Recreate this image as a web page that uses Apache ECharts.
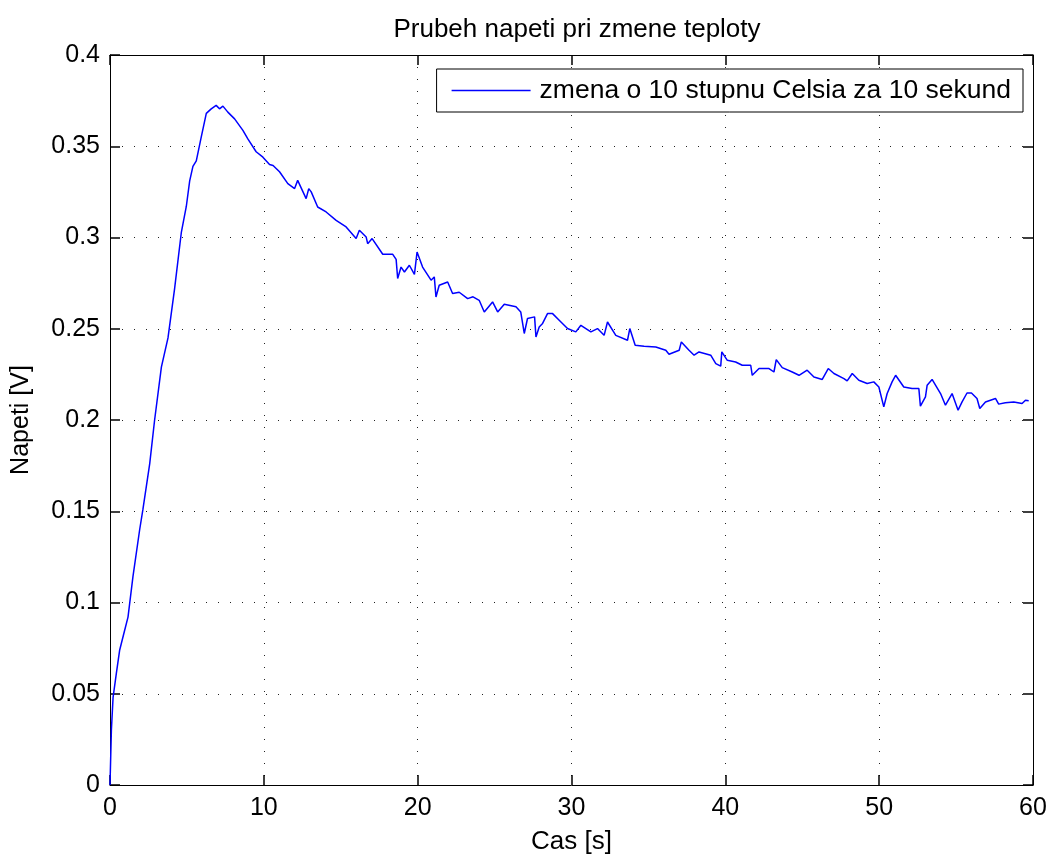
<!DOCTYPE html>
<html>
<head>
<meta charset="utf-8">
<script src="https://cdn.jsdelivr.net/npm/echarts@6/dist/echarts.min.js"></script>
<style>
html,body{margin:0;padding:0;background:#fff;overflow:hidden;}
#chart{width:1053px;height:856px;}
</style>
</head>
<body>
<div id="chart"></div>
<script>
const titleText = 'Prubeh napeti pri zmene teploty';
const seriesName = 'zmena o 10 stupnu Celsia za 10 sekund';
const xName = 'Cas [s]';
const yName = 'Napeti [V]';
const xTicks = [0, 10, 20, 30, 40, 50, 60];
const yTicks = [0, 0.05, 0.1, 0.15, 0.2, 0.25, 0.3, 0.35, 0.4];

const times = [
  0, 0.09, 0.2, 0.41, 0.63, 0.9, 1.17, 1.49, 1.93, 2.14,
  2.58, 2.9, 3.34, 3.77, 4.2, 4.64, 4.96, 5.18, 5.39, 5.61,
  5.93, 6.26, 6.58, 6.9, 7.12, 7.34, 7.66, 8.1, 8.64, 8.96,
  9.5, 9.94, 10.37, 10.6, 11.02, 11.56, 12.0, 12.2, 12.75, 12.92,
  13.08, 13.5, 14.05, 14.7, 15.35, 16.0, 16.21, 16.65, 16.75, 17.04,
  17.73, 18.38, 18.6, 18.7, 18.92, 19.14, 19.46, 19.79, 19.96, 20.32,
  20.87, 21.08, 21.19, 21.4, 21.95, 22.27, 22.7, 23.25, 23.6, 24.0,
  24.33, 24.87, 25.2, 25.63, 26.39, 26.7, 26.93, 27.14, 27.6, 27.69,
  27.9, 28.12, 28.44, 28.77, 29.2, 29.74, 30.28, 30.61, 31.26, 31.69,
  32.12, 32.34, 32.88, 33.64, 33.79, 34.14, 34.72, 35.48, 36.13, 36.34,
  37.0, 37.14, 37.64, 37.97, 38.29, 39.05, 39.38, 39.7, 39.77, 40.13,
  40.67, 41.1, 41.65, 41.75, 42.19, 42.84, 43.16, 43.31, 43.7, 44.35,
  44.79, 45.32, 45.76, 46.3, 46.69, 47.06, 47.71, 47.92, 48.25, 48.68,
  49.22, 49.65, 49.98, 50.3, 50.52, 50.84, 51.07, 51.6, 52.14, 52.58,
  52.68, 53.01, 53.12, 53.44, 53.99, 54.31, 54.74, 55.13, 55.39, 55.71,
  56.0, 56.36, 56.54, 56.91, 57.56, 57.77, 58.2, 58.75, 59.29, 59.51,
  59.72
];
const volts = [
  0, 0.030, 0.048, 0.061, 0.074, 0.083, 0.092, 0.114, 0.140, 0.151,
  0.176, 0.200, 0.229, 0.245, 0.272, 0.303, 0.317, 0.331, 0.339, 0.342,
  0.355, 0.368, 0.3705, 0.3724, 0.3705, 0.372, 0.3687, 0.365, 0.3587, 0.354,
  0.347, 0.344, 0.340, 0.3395, 0.336, 0.3295, 0.3268, 0.3313, 0.3213, 0.3268,
  0.325, 0.3167, 0.314, 0.3094, 0.3058, 0.2994, 0.304, 0.3003, 0.2966, 0.2994,
  0.2908, 0.2908, 0.288, 0.2775, 0.2838, 0.2811, 0.2848, 0.2798, 0.292, 0.2838,
  0.2766, 0.2784, 0.2674, 0.2738, 0.2756, 0.2693, 0.2700, 0.2665, 0.2675, 0.2656,
  0.2592, 0.2647, 0.2592, 0.2634, 0.262, 0.2592, 0.2474, 0.2556, 0.2565, 0.2455,
  0.251, 0.2529, 0.2583, 0.2583, 0.2547, 0.2501, 0.2483, 0.2519, 0.2483, 0.2501,
  0.2464, 0.2537, 0.2464, 0.2437, 0.2501, 0.241, 0.2404, 0.240, 0.2382, 0.236,
  0.2382, 0.2428, 0.2382, 0.2355, 0.2373, 0.2355, 0.2309, 0.2295, 0.2373, 0.2327,
  0.2318, 0.23, 0.23, 0.2245, 0.2282, 0.2282, 0.2263, 0.2331, 0.2287, 0.2263,
  0.2245, 0.2273, 0.2236, 0.2222, 0.2282, 0.2255, 0.2227, 0.2214, 0.2255, 0.2218,
  0.22, 0.2209, 0.2181, 0.2072, 0.2145, 0.2209, 0.2245, 0.2181, 0.2172, 0.2172,
  0.2076, 0.2127, 0.2191, 0.2222, 0.2145, 0.2081, 0.2145, 0.2054, 0.2099, 0.2148,
  0.2148, 0.2118, 0.2063, 0.2099, 0.2118, 0.2087, 0.2094, 0.2099, 0.209, 0.2108,
  0.2105
];

const FONT = '"Liberation Sans", Arial, Helvetica, sans-serif';
const data = times.map((t, i) => [t, volts[i]]);

function gridDots() { return { show: true, lineStyle: { color: '#222', width: 1, type: [1, 11] } }; }
function frameLine() { return { show: true, onZero: false, lineStyle: { color: '#000', width: 1 } }; }
function tickIn() { return { show: true, inside: false, length: -10, lineStyle: { color: '#000', width: 1.5, opacity: 1 } }; }

const chart = echarts.init(document.getElementById('chart'), null, { renderer: 'canvas' });
chart.setOption({
  animation: false,
  backgroundColor: '#fff',
  title: {
    text: titleText,
    left: 572, top: 12, textAlign: 'center',
    textStyle: { fontFamily: FONT, fontSize: 26, fontWeight: 'normal', color: '#000' }
  },
  legend: {
    data: [{ name: seriesName, icon: 'rect' }],
    right: 30, top: 69,
    backgroundColor: '#fff', borderColor: '#000', borderWidth: 1, borderRadius: 0,
    padding: [8, 12, 8, 15],
    itemWidth: 79, itemHeight: 1.5, itemGap: 10,
    itemStyle: { color: '#0000ff', borderWidth: 0 },
    textStyle: { fontFamily: FONT, fontSize: 26.5, color: '#000', padding: [0, 0, 0, 4] }
  },
  grid: { left: 110, right: 20, top: 55, bottom: 71, containLabel: false, outerBoundsMode: 'none' },
  xAxis: [
    {
      type: 'value', position: 'bottom', min: xTicks[0], max: xTicks[xTicks.length - 1], interval: 10,
      name: xName, nameLocation: 'middle', nameGap: 44,
      nameTextStyle: { fontFamily: FONT, fontSize: 26, color: '#000' },
      axisLine: frameLine(), axisTick: tickIn(), splitLine: gridDots(),
      axisLabel: { fontFamily: FONT, fontSize: 25, color: '#000', margin: 11 }
    },
    {
      type: 'value', position: 'top', min: xTicks[0], max: xTicks[xTicks.length - 1], interval: 10,
      axisLine: frameLine(), axisTick: tickIn(), splitLine: { show: false }, axisLabel: { show: false }
    }
  ],
  yAxis: [
    {
      type: 'value', position: 'left', min: yTicks[0], max: yTicks[yTicks.length - 1], interval: 0.05,
      name: yName, nameLocation: 'middle', nameGap: 76,
      nameTextStyle: { fontFamily: FONT, fontSize: 25, color: '#000' },
      axisLine: frameLine(), axisTick: tickIn(), splitLine: gridDots(),
      axisLabel: { fontFamily: FONT, fontSize: 25, color: '#000', margin: 10 }
    },
    {
      type: 'value', position: 'right', min: yTicks[0], max: yTicks[yTicks.length - 1], interval: 0.05,
      axisLine: frameLine(), axisTick: tickIn(), splitLine: { show: false }, axisLabel: { show: false }
    }
  ],
  series: [{
    name: seriesName,
    type: 'line',
    xAxisIndex: 0, yAxisIndex: 0,
    data: data,
    showSymbol: false, symbol: 'none',
    lineStyle: { color: '#0000ff', width: 1.5 },
    itemStyle: { color: '#0000ff' },
    z: 3
  }]
});
</script>
</body>
</html>
